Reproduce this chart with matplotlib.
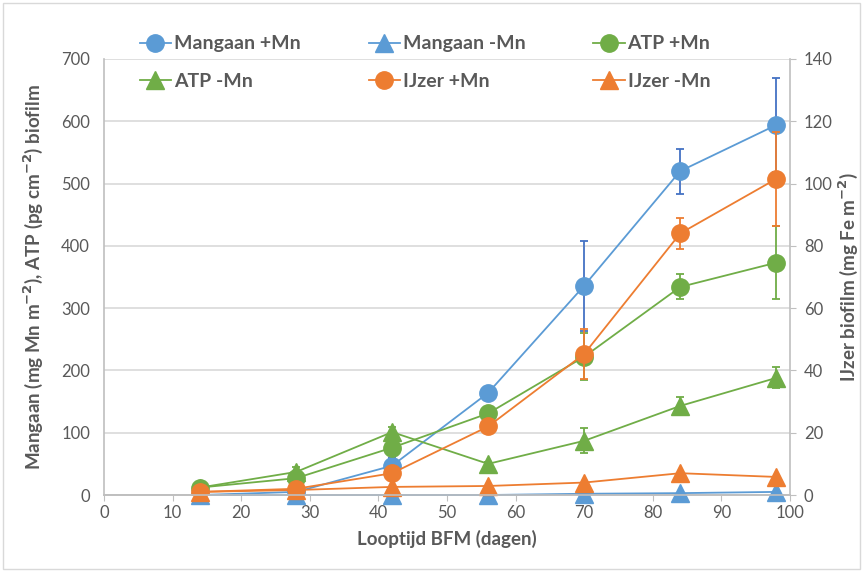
import matplotlib.pyplot as plt
from matplotlib.lines import Line2D
from matplotlib.patches import Rectangle

plt.rcParams['font.family'] = ['Lato', 'DejaVu Sans']

# sampling days
days = [14, 28, 42, 56, 70, 84, 98]

# left axis: mangaan (mg Mn m-2) and ATP (pg cm-2)
mn_plus = [0, 5, 47, 164, 336, 520, 594]
mn_plus_err = [0, 2, 12, 0, 72, 36, 76]
mn_min = [0, 0, 0, 0, 2, 3, 5]
atp_plus = [12, 27, 76, 131, 222, 334, 373]
atp_plus_err = [3, 4, 6, 5, 38, 20, 59]
atp_min = [12, 37, 101, 50, 87, 143, 188]
atp_min_err = [2, 8, 8, 3, 20, 14, 17]

# right axis: iron (mg Fe m-2)
fe_plus = [1, 2, 7, 22, 45.3, 84, 101.5]
fe_plus_err = [0.3, 0.5, 1, 1, 8, 5, 15]
fe_min = [1, 1.6, 2.6, 2.9, 4, 7, 5.8]

blue = '#5B9BD5'
orange = '#ED7D31'
green = '#70AD47'
grey = '#595959'
ms = 12.5

fig = plt.figure(figsize=(8.63, 5.72), dpi=100)
ax = fig.add_axes([0.1205, 0.1346, 0.7949, 0.7623])
ax2 = ax.twinx()

kw = dict(markersize=ms, linewidth=1.3, capsize=3, elinewidth=1.3, capthick=1.3)
ax.plot(days, mn_min, color=blue, marker='^', markersize=ms, linewidth=1.3, clip_on=False, zorder=3)
ax.errorbar(days, mn_plus, yerr=mn_plus_err, color=blue, ecolor='#4472C4', marker='o', **kw)
ax.errorbar(days, atp_plus, yerr=atp_plus_err, color=green, marker='o', **kw)
ax.errorbar(days, atp_min, yerr=atp_min_err, color=green, marker='^', **kw)
ax2.errorbar(days, fe_plus, yerr=fe_plus_err, color=orange, marker='o', **kw)
ax2.plot(days, fe_min, color=orange, marker='^', markersize=ms, linewidth=1.3, clip_on=False)

ax.set_xlim(0, 100)
ax.set_ylim(0, 700)
ax2.set_ylim(0, 140)
ax.set_xticks(range(0, 101, 10))
ax.set_yticks(range(0, 701, 100))
ax2.set_yticks(range(0, 141, 20))
ax.grid(axis='y', color='#D9D9D9', linewidth=1.2)
ax.set_axisbelow(True)

for a in (ax, ax2):
    a.spines['top'].set_visible(False)
    for s in ('left', 'right', 'bottom'):
        a.spines[s].set_color('#BFBFBF')
        a.spines[s].set_linewidth(1.2)
    a.tick_params(colors=grey, labelsize=12, length=4, color='#BFBFBF')
    a.tick_params(axis='y', pad=6)
ax.spines['right'].set_visible(False)
ax2.spines['left'].set_visible(False)
ax.tick_params(axis='y', length=0, pad=10)

ax.set_xlabel('Looptijd BFM (dagen)', fontsize=13.5, fontweight='bold', color=grey, labelpad=6)
ax.set_ylabel(r'Mangaan (mg Mn m$^{\mathbf{-2}}$), ATP (pg cm$^{\mathbf{-2}}$) biofilm',
              fontsize=13.5, fontweight='bold', color=grey, labelpad=12)
ax2.set_ylabel(r'IJzer biofilm (mg Fe m$^{\mathbf{-2}}$)', fontsize=13.5, fontweight='bold',
               color=grey, labelpad=3)

def handle(c, m):
    return Line2D([], [], color=c, marker=m, markersize=ms, linewidth=1.3)

handles = [handle(blue, 'o'), handle(green, '^'), handle(blue, '^'),
           handle(orange, 'o'), handle(green, 'o'), handle(orange, '^')]
labels = ['Mangaan +Mn', 'ATP -Mn', 'Mangaan -Mn', 'IJzer +Mn', 'ATP +Mn', 'IJzer -Mn']
leg = fig.legend(handles, labels, ncol=3, loc='upper left', bbox_to_anchor=(0.162, 0.938),
                 frameon=False, fontsize=14, columnspacing=3.5, handlelength=1.6,
                 handletextpad=0.15, labelspacing=1.05, borderaxespad=0, borderpad=0)
for t in leg.get_texts():
    t.set_fontweight('bold')
    t.set_color(grey)

fig.patches.append(Rectangle((0.003, 0.005), 0.994, 0.99, transform=fig.transFigure,
                             fill=False, edgecolor='#D9D9D9', linewidth=1))

fig.savefig('out.png', dpi=100)
